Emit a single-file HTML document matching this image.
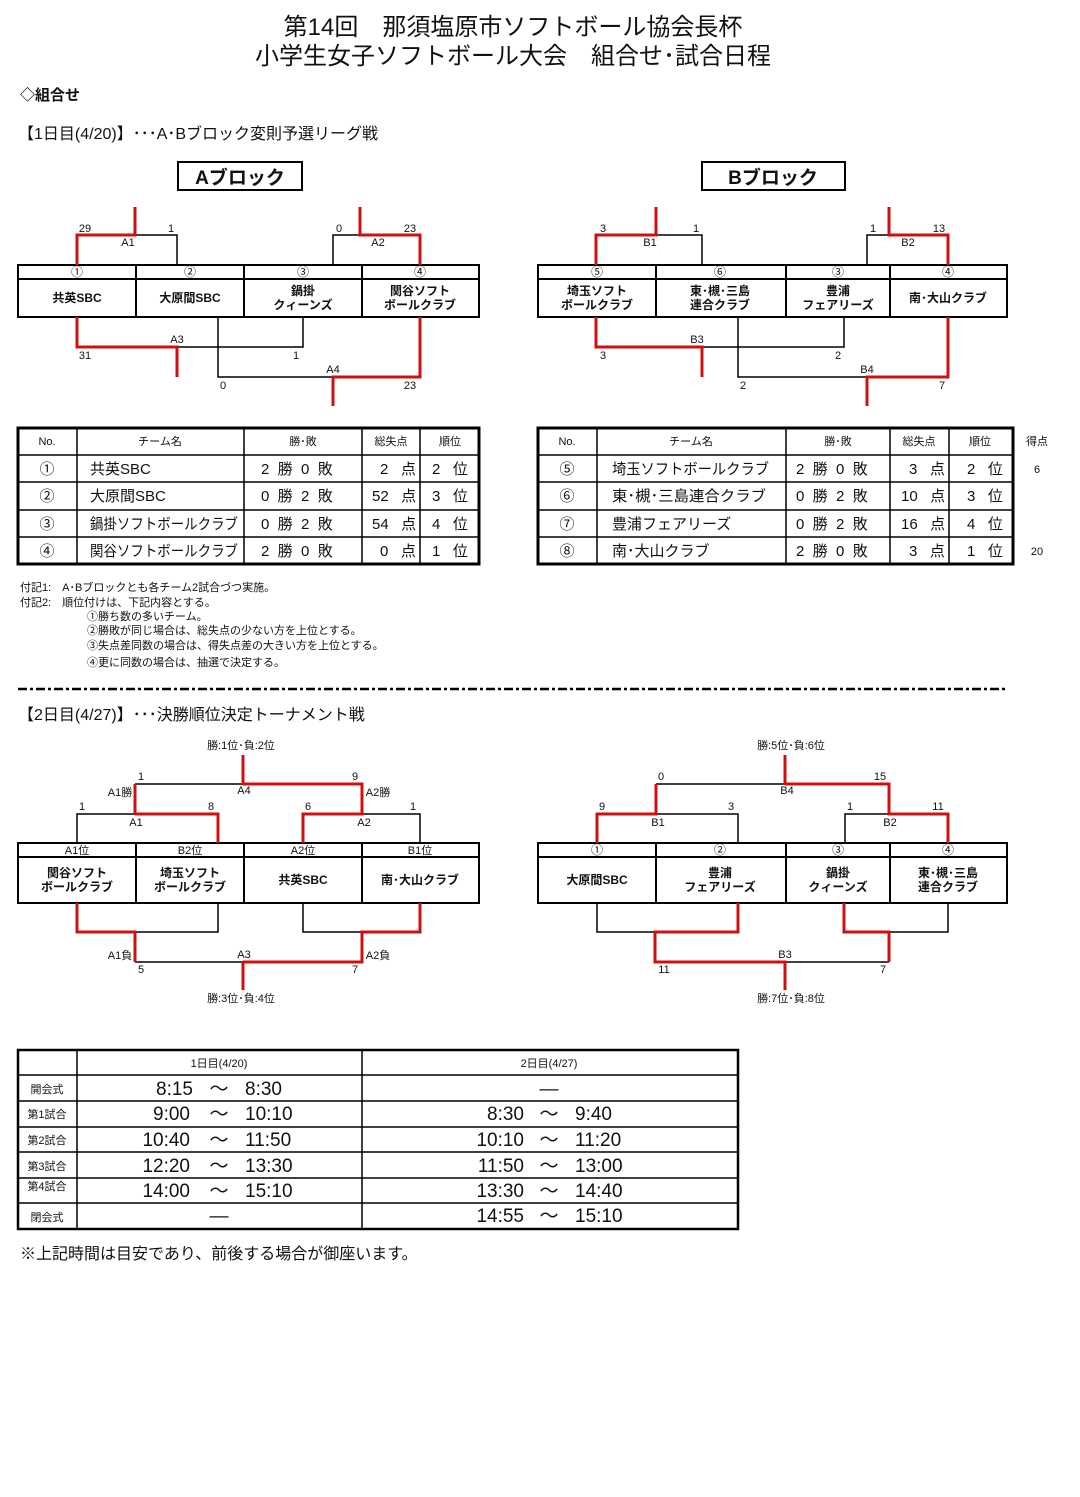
<!DOCTYPE html>
<html><head><meta charset="utf-8"><style>
body{margin:0;background:#fff}
svg text{font-family:"Liberation Sans","Noto Sans CJK JP",sans-serif;fill:#111;white-space:pre}
</style></head><body>
<svg width="1080" height="1492" viewBox="0 0 1080 1492" xmlns="http://www.w3.org/2000/svg">
<rect width="1080" height="1492" fill="#fff"/>
<g text-anchor="middle" font-size="24">
<text x="513" y="35">第14回　那須塩原市ソフトボール協会長杯</text>
<text x="513" y="64">小学生女子ソフトボール大会　組合せ･試合日程</text>
</g>
<text x="20" y="100" font-size="15" font-weight="bold">◇組合せ</text>
<text x="18" y="139" font-size="16">【1日目(4/20)】･･･A･Bブロック変則予選リーグ戦</text>
<rect x="178" y="162" width="124" height="28" fill="none" stroke="#000" stroke-width="2"/>
<text x="240" y="184" font-size="19" font-weight="bold" text-anchor="middle">Aブロック</text>
<rect x="702" y="162" width="143" height="28" fill="none" stroke="#000" stroke-width="2"/>
<text x="773" y="184" font-size="19" font-weight="bold" text-anchor="middle">Bブロック</text>

<g fill="none" stroke="#000" stroke-width="2">
<rect x="18" y="265" width="461" height="52"/><line x1="18" y1="279" x2="479" y2="279"/>
<line x1="136" y1="265" x2="136" y2="317"/><line x1="244" y1="265" x2="244" y2="317"/><line x1="362" y1="265" x2="362" y2="317"/>
<rect x="538" y="265" width="469" height="52"/><line x1="538" y1="279" x2="1007" y2="279"/>
<line x1="656" y1="265" x2="656" y2="317"/><line x1="786" y1="265" x2="786" y2="317"/><line x1="890" y1="265" x2="890" y2="317"/>
</g>
<g fill="none" stroke="#000" stroke-width="1.5">
<polyline points="135,235 177,235 177,265"/><polyline points="333,265 333,235 360,235"/>
<polyline points="177,347 303,347 303,317"/><polyline points="218,317 218,377 333,377"/>
<polyline points="656,235 702,235 702,265"/><polyline points="867,265 867,235 889,235"/>
<polyline points="702,347 844,347 844,317"/><polyline points="738,317 738,377 867,377"/>
</g>
<g fill="none" stroke="#d01010" stroke-width="3">
<polyline points="77,265 77,235 135,235 135,207"/><polyline points="360,207 360,235 420,235 420,265"/>
<polyline points="77,317 77,347 177,347 177,377"/><polyline points="420,317 420,377 333,377 333,406"/>
<polyline points="596,265 596,235 656,235 656,207"/><polyline points="889,207 889,235 948,235 948,265"/>
<polyline points="596,317 596,347 702,347 702,377"/><polyline points="948,317 948,377 867,377 867,406"/>
</g>
<g font-size="11" text-anchor="middle">
<text x="85" y="232">29</text><text x="171" y="232">1</text><text x="128" y="246">A1</text>
<text x="339" y="232">0</text><text x="410" y="232">23</text><text x="378" y="246">A2</text>
<text x="177" y="343">A3</text><text x="85" y="359">31</text><text x="296" y="359">1</text>
<text x="333" y="373">A4</text><text x="223" y="389">0</text><text x="410" y="389">23</text>
<text x="603" y="232">3</text><text x="696" y="232">1</text><text x="650" y="246">B1</text>
<text x="873" y="232">1</text><text x="939" y="232">13</text><text x="908" y="246">B2</text>
<text x="697" y="343">B3</text><text x="603" y="359">3</text><text x="838" y="359">2</text>
<text x="867" y="373">B4</text><text x="743" y="389">2</text><text x="942" y="389">7</text>
<g font-size="12"><text x="77" y="276">①</text><text x="190" y="276">②</text><text x="303" y="276">③</text><text x="420" y="276">④</text>
<text x="597" y="276">⑤</text><text x="720" y="276">⑥</text><text x="838" y="276">③</text><text x="948" y="276">④</text></g>
<g font-size="12" font-weight="bold">
<text x="77" y="302">共英SBC</text><text x="190" y="302">大原間SBC</text>
<text x="303" y="295">鍋掛</text><text x="303" y="309">クィーンズ</text>
<text x="420" y="295">関谷ソフト</text><text x="420" y="309">ボールクラブ</text>
<text x="597" y="295">埼玉ソフト</text><text x="597" y="309">ボールクラブ</text>
<text x="720" y="295">東･槻･三島</text><text x="720" y="309">連合クラブ</text>
<text x="838" y="295">豊浦</text><text x="838" y="309">フェアリーズ</text>
<text x="948" y="302">南･大山クラブ</text>
</g></g>

<g fill="none" stroke="#000" stroke-width="1.5">
<rect x="18" y="428" width="461" height="136" stroke-width="3"/>
<line x1="18" y1="455" x2="479" y2="455"/><line x1="18" y1="482" x2="479" y2="482"/><line x1="18" y1="510" x2="479" y2="510"/><line x1="18" y1="537" x2="479" y2="537"/>
<line x1="77" y1="428" x2="77" y2="564"/><line x1="244" y1="428" x2="244" y2="564"/><line x1="362" y1="428" x2="362" y2="564"/><line x1="420" y1="428" x2="420" y2="564"/>
<rect x="538" y="428" width="475" height="136" stroke-width="3"/>
<line x1="538" y1="455" x2="1013" y2="455"/><line x1="538" y1="482" x2="1013" y2="482"/><line x1="538" y1="510" x2="1013" y2="510"/><line x1="538" y1="537" x2="1013" y2="537"/>
<line x1="597" y1="428" x2="597" y2="564"/><line x1="786" y1="428" x2="786" y2="564"/><line x1="890" y1="428" x2="890" y2="564"/><line x1="949" y1="428" x2="949" y2="564"/>
</g>
<g font-size="11" text-anchor="middle">
<text x="47" y="445">No.</text><text x="160" y="445">チーム名</text><text x="303" y="445">勝･敗</text><text x="391" y="445">総失点</text><text x="450" y="445">順位</text>
<text x="567" y="445">No.</text><text x="691" y="445">チーム名</text><text x="838" y="445">勝･敗</text><text x="919" y="445">総失点</text><text x="980" y="445">順位</text>
<text x="1037" y="445">得点</text><text x="1037" y="473">6</text><text x="1037" y="555">20</text>
</g>
<g font-size="15">
<g text-anchor="middle"><text x="47" y="474">①</text><text x="47" y="501">②</text><text x="47" y="529">③</text><text x="47" y="556">④</text>
<text x="567" y="474">⑤</text><text x="567" y="501">⑥</text><text x="567" y="529">⑦</text><text x="567" y="556">⑧</text></g>
<text x="90" y="474">共英SBC</text><text x="90" y="501">大原間SBC</text>
<text x="90" y="529" textLength="148" lengthAdjust="spacingAndGlyphs">鍋掛ソフトボールクラブ</text>
<text x="90" y="556" textLength="148" lengthAdjust="spacingAndGlyphs">関谷ソフトボールクラブ</text>
<text x="612" y="474" textLength="157" lengthAdjust="spacingAndGlyphs">埼玉ソフトボールクラブ</text>
<text x="612" y="501" textLength="154" lengthAdjust="spacingAndGlyphs">東･槻･三島連合クラブ</text>
<text x="612" y="529">豊浦フェアリーズ</text><text x="612" y="556">南･大山クラブ</text>
<text x="261" y="474">2  勝  0  敗</text><text x="261" y="501">0  勝  2  敗</text><text x="261" y="529">0  勝  2  敗</text><text x="261" y="556">2  勝  0  敗</text>
<text x="380" y="474">2   点</text><text x="372" y="501">52   点</text><text x="372" y="529">54   点</text><text x="380" y="556">0   点</text>
<text x="432" y="474">2   位</text><text x="432" y="501">3   位</text><text x="432" y="529">4   位</text><text x="432" y="556">1   位</text>
<text x="796" y="474">2  勝  0  敗</text><text x="796" y="501">0  勝  2  敗</text><text x="796" y="529">0  勝  2  敗</text><text x="796" y="556">2  勝  0  敗</text>
<text x="909" y="474">3   点</text><text x="901" y="501">10   点</text><text x="901" y="529">16   点</text><text x="909" y="556">3   点</text>
<text x="967" y="474">2   位</text><text x="967" y="501">3   位</text><text x="967" y="529">4   位</text><text x="967" y="556">1   位</text>
</g>
<g font-size="11">
<text x="20" y="591">付記1:　A･Bブロックとも各チーム2試合づつ実施。</text>
<text x="20" y="606">付記2:　順位付けは、下記内容とする。</text>
<text x="87" y="620">①勝ち数の多いチーム。</text>
<text x="87" y="634">②勝敗が同じ場合は、総失点の少ない方を上位とする。</text>
<text x="87" y="649">③失点差同数の場合は、得失点差の大きい方を上位とする。</text>
<text x="87" y="666">④更に同数の場合は、抽選で決定する。</text>
</g>
<line x1="18" y1="689" x2="1008" y2="689" stroke="#000" stroke-width="2.5" stroke-dasharray="9,3,3,3"/>
<text x="18" y="720" font-size="16">【2日目(4/27)】･･･決勝順位決定トーナメント戦</text>

<g fill="none" stroke="#000" stroke-width="2">
<rect x="18" y="843" width="461" height="60"/><line x1="18" y1="857" x2="479" y2="857"/>
<line x1="136" y1="843" x2="136" y2="903"/><line x1="244" y1="843" x2="244" y2="903"/><line x1="362" y1="843" x2="362" y2="903"/>
<rect x="538" y="843" width="469" height="60"/><line x1="538" y1="857" x2="1007" y2="857"/>
<line x1="656" y1="843" x2="656" y2="903"/><line x1="786" y1="843" x2="786" y2="903"/><line x1="890" y1="843" x2="890" y2="903"/>
</g>
<g fill="none" stroke="#000" stroke-width="1.5">
<polyline points="77,843 77,814 135,814"/><polyline points="362,814 420,814 420,843"/><line x1="135" y1="784" x2="243" y2="784"/>
<polyline points="135,932 218,932 218,903"/><polyline points="303,903 303,932 362,932"/><line x1="135" y1="962" x2="243" y2="962"/>
<polyline points="656,814 738,814 738,843"/><polyline points="845,843 845,814 889,814"/><line x1="656" y1="784" x2="785" y2="784"/>
<polyline points="597,903 597,932 655,932"/><polyline points="889,932 948,932 948,903"/><line x1="785" y1="962" x2="889" y2="962"/>
</g>
<g fill="none" stroke="#d01010" stroke-width="3">
<polyline points="135,814 218,814 218,843"/><polyline points="135,814 135,784"/>
<polyline points="303,843 303,814 362,814 362,784 243,784"/><line x1="243" y1="784" x2="243" y2="755"/>
<polyline points="77,903 77,932 135,932 135,962"/>
<polyline points="420,903 420,932 362,932 362,962 243,962"/><line x1="243" y1="962" x2="243" y2="990"/>
<polyline points="597,843 597,814 656,814 656,784"/>
<polyline points="948,843 948,814 889,814 889,784 785,784"/><line x1="785" y1="784" x2="785" y2="755"/>
<polyline points="738,903 738,932 655,932 655,962 785,962 785,990"/>
<polyline points="844,903 844,932 889,932 889,962"/>
</g>
<g font-size="11" text-anchor="middle">
<text x="241" y="749">勝:1位･負:2位</text>
<text x="141" y="780">1</text><text x="355" y="780">9</text>
<text x="120" y="796">A1勝</text><text x="244" y="794">A4</text><text x="378" y="796">A2勝</text>
<text x="82" y="810">1</text><text x="211" y="810">8</text><text x="308" y="810">6</text><text x="413" y="810">1</text>
<text x="136" y="826">A1</text><text x="364" y="826">A2</text>
<text x="120" y="959">A1負</text><text x="244" y="958">A3</text><text x="378" y="959">A2負</text>
<text x="141" y="973">5</text><text x="355" y="973">7</text>
<text x="241" y="1002">勝:3位･負:4位</text>
<text x="791" y="749">勝:5位･負:6位</text>
<text x="661" y="780">0</text><text x="880" y="780">15</text><text x="787" y="794">B4</text>
<text x="602" y="810">9</text><text x="731" y="810">3</text><text x="850" y="810">1</text><text x="938" y="810">11</text>
<text x="658" y="826">B1</text><text x="890" y="826">B2</text>
<text x="785" y="958">B3</text><text x="664" y="973">11</text><text x="883" y="973">7</text>
<text x="791" y="1002">勝:7位･負:8位</text>
<text x="77" y="854">A1位</text><text x="190" y="854">B2位</text><text x="303" y="854">A2位</text><text x="420" y="854">B1位</text>
<g font-size="12"><text x="597" y="854">①</text><text x="720" y="854">②</text><text x="838" y="854">③</text><text x="948" y="854">④</text></g>
<g font-size="12" font-weight="bold">
<text x="77" y="877">関谷ソフト</text><text x="77" y="891">ボールクラブ</text>
<text x="190" y="877">埼玉ソフト</text><text x="190" y="891">ボールクラブ</text>
<text x="303" y="884">共英SBC</text><text x="420" y="884">南･大山クラブ</text>
<text x="597" y="884">大原間SBC</text>
<text x="720" y="877">豊浦</text><text x="720" y="891">フェアリーズ</text>
<text x="838" y="877">鍋掛</text><text x="838" y="891">クィーンズ</text>
<text x="948" y="877">東･槻･三島</text><text x="948" y="891">連合クラブ</text>
</g></g>

<g fill="none" stroke="#000" stroke-width="1.5">
<rect x="18" y="1050" width="720" height="179" stroke-width="2.5"/>
<line x1="18" y1="1075" x2="738" y2="1075"/><line x1="18" y1="1101" x2="738" y2="1101"/><line x1="18" y1="1127" x2="738" y2="1127"/>
<line x1="18" y1="1152" x2="738" y2="1152"/><line x1="18" y1="1178" x2="738" y2="1178"/><line x1="18" y1="1203" x2="738" y2="1203"/>
<line x1="77" y1="1050" x2="77" y2="1229"/><line x1="362" y1="1050" x2="362" y2="1229"/>
</g>
<g font-size="11" text-anchor="middle">
<text x="219" y="1067">1日目(4/20)</text><text x="549" y="1067">2日目(4/27)</text>
<text x="47" y="1093">開会式</text><text x="47" y="1118">第1試合</text><text x="47" y="1144">第2試合</text>
<text x="47" y="1170">第3試合</text><text x="47" y="1190">第4試合</text><text x="47" y="1221">閉会式</text>
</g>
<g font-size="19">
<g text-anchor="middle"><text x="219" y="1095">～</text><text x="219" y="1120">～</text><text x="219" y="1146">～</text><text x="219" y="1172">～</text><text x="219" y="1197">～</text><text x="219" y="1222">―</text>
<text x="549" y="1095">―</text><text x="549" y="1120">～</text><text x="549" y="1146">～</text><text x="549" y="1172">～</text><text x="549" y="1197">～</text><text x="549" y="1222">～</text></g>
<g text-anchor="end"><text x="193" y="1095">8:15</text><text x="190" y="1120">9:00</text><text x="190" y="1146">10:40</text><text x="190" y="1172">12:20</text><text x="190" y="1197">14:00</text>
<text x="524" y="1120">8:30</text><text x="524" y="1146">10:10</text><text x="524" y="1172">11:50</text><text x="524" y="1197">13:30</text><text x="524" y="1222">14:55</text></g>
<g text-anchor="start"><text x="245" y="1095">8:30</text><text x="245" y="1120">10:10</text><text x="245" y="1146">11:50</text><text x="245" y="1172">13:30</text><text x="245" y="1197">15:10</text>
<text x="575" y="1120">9:40</text><text x="575" y="1146">11:20</text><text x="575" y="1172">13:00</text><text x="575" y="1197">14:40</text><text x="575" y="1222">15:10</text></g>
</g>
<text x="20" y="1259" font-size="16">※上記時間は目安であり、前後する場合が御座います。</text>
</svg>
</body></html>
